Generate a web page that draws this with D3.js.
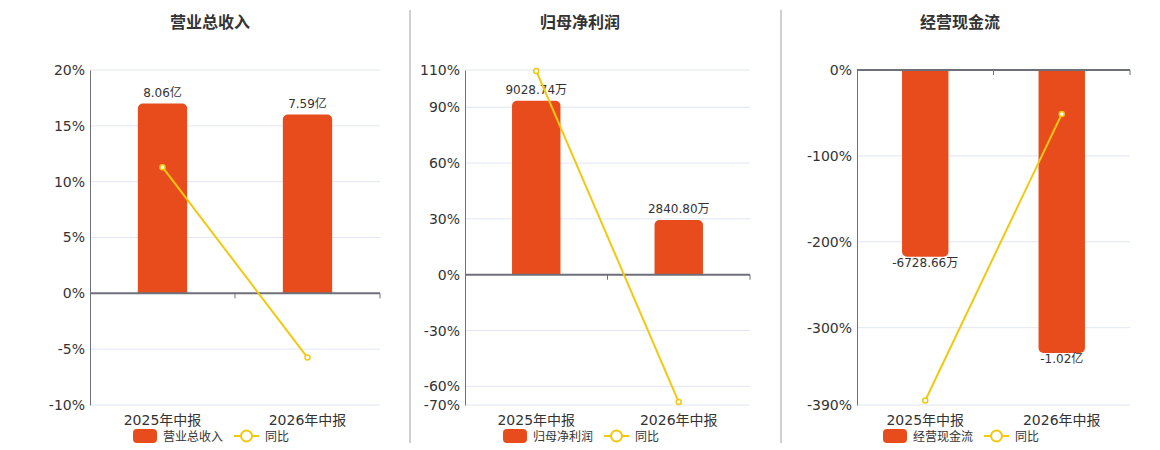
<!DOCTYPE html>
<html><head><meta charset="utf-8">
<script src="https://cdn.jsdelivr.net/npm/d3@7/dist/d3.min.js"></script>
<style>
body{margin:0;background:#fff;}
svg{display:block;font-family:"DejaVu Sans","Noto Sans CJK SC",sans-serif;}
</style></head>
<body><svg id="c" width="1160" height="450"></svg>
<script>
const categories = ["2025年中报", "2026年中报"];
const titles = ["营业总收入", "归母净利润", "经营现金流"];
// bar values in 万
const revenueValues = [80600, 75900];
const netProfitValues = [9028.74, 2840.80];
const cashFlowValues = [-6728.66, -10200];
const revenueLabels = ["8.06亿", "7.59亿"];
const netProfitLabels = ["9028.74万", "2840.80万"];
const cashFlowLabels = ["-6728.66万", "-1.02亿"];
// year-on-year %
const revenueYoY = [11.3, -5.75];
const netProfitYoY = [109.5, -68.4];
const cashFlowYoY = [-384.7, -51.3];
// y tick labels
const revenueTicks = [20, 15, 10, 5, 0, -5, -10];
const netProfitTicks = [110, 90, 60, 30, 0, -30, -60, -70];
const cashFlowTicks = [0, -100, -200, -300, -390];

const panels = [
  {title: titles[0], bars: revenueValues, labels: revenueLabels, yoy: revenueYoY, ticks: revenueTicks,
   left: 90, right: 380, cx: 210},
  {title: titles[1], bars: netProfitValues, labels: netProfitLabels, yoy: netProfitYoY, ticks: netProfitTicks,
   left: 465, right: 750, cx: 580},
  {title: titles[2], bars: cashFlowValues, labels: cashFlowLabels, yoy: cashFlowYoY, ticks: cashFlowTicks,
   left: 857, right: 1130, cx: 960}
];

const BAR = "#E84C1C", LINE = "#F2C811", AXIS = "#6E7079", GRID = "#E0E6F1", TXT = "#333";
const plotTop = 70, plotBottom = 405;
const svg = d3.select("#c");

[410, 781].forEach(x => svg.append("line").attr("x1", x).attr("x2", x).attr("y1", 10).attr("y2", 443)
  .attr("stroke", "#a0a0a0").attr("stroke-width", 1));

function roundedBar(x, w, y0, y1, r) {
  const p = d3.path();
  if (y1 < y0) {
    p.moveTo(x, y0); p.lineTo(x, y1 + r); p.arcTo(x, y1, x + r, y1, r);
    p.lineTo(x + w - r, y1); p.arcTo(x + w, y1, x + w, y1 + r, r); p.lineTo(x + w, y0); p.closePath();
  } else {
    p.moveTo(x, y0); p.lineTo(x, y1 - r); p.arcTo(x, y1, x + r, y1, r);
    p.lineTo(x + w - r, y1); p.arcTo(x + w, y1, x + w, y1 - r, r); p.lineTo(x + w, y0); p.closePath();
  }
  return p.toString();
}

panels.forEach(P => {
  const g = svg.append("g");
  const tmax = d3.max(P.ticks), tmin = d3.min(P.ticks);
  const y = d3.scaleLinear().domain([tmin, tmax]).range([plotBottom, plotTop]);
  const x = d3.scaleBand().domain(categories).range([P.left, P.right]);
  const y0 = y(0);
  const bmax = d3.max(P.bars), bmin = d3.min(P.bars);
  const yb = d3.scaleLinear();
  if (bmax > 0) yb.domain([0, bmax / 0.85]).range([y0, plotTop]);
  else yb.domain([0, bmin / 0.845]).range([y0, plotBottom]);

  g.append("text").attr("x", P.cx).attr("y", 28).attr("text-anchor", "middle")
    .attr("font-size", 16).attr("font-weight", "bold").attr("fill", TXT)
    .attr("font-family", "'Noto Sans CJK SC',sans-serif").text(P.title);

  g.selectAll(".grid").data(P.ticks.filter(t => t !== 0)).enter().append("line")
    .attr("x1", P.left).attr("x2", P.right).attr("y1", d => y(d)).attr("y2", d => y(d))
    .attr("stroke", GRID).attr("stroke-width", 1);

  const ya = d3.axisLeft(y).tickValues(P.ticks).tickSize(0).tickPadding(5).tickFormat(d => d + "%");
  const yg = g.append("g").attr("transform", `translate(${P.left},0)`).call(ya)
    .attr("font-family", null).attr("font-size", null);
  yg.select(".domain").attr("stroke", AXIS).attr("stroke-width", 1);
  yg.selectAll("text").attr("font-size", 14).attr("fill", TXT);

  P.bars.forEach((v, i) => {
    const bw = x.bandwidth() * 0.34;
    const bx = x(categories[i]) + (x.bandwidth() - bw) / 2;
    const by = yb(v);
    g.append("path").attr("d", roundedBar(bx, bw, y0, by, 5)).attr("fill", BAR);
    g.append("text").attr("x", bx + bw / 2).attr("y", v >= 0 ? by - 7 : by + 10)
      .attr("text-anchor", "middle").attr("font-size", 12).attr("fill", TXT)
      .text(P.labels[i]);
  });

  g.append("line").attr("x1", P.left).attr("x2", P.right).attr("y1", y0).attr("y2", y0)
    .attr("stroke", AXIS).attr("stroke-width", 2);
  [x(categories[1]), P.right].forEach(tx => {
    g.append("line").attr("x1", tx).attr("x2", tx).attr("y1", y0).attr("y2", y0 + 5).attr("stroke", AXIS);
  });

  categories.forEach(c => {
    g.append("text").attr("x", x(c) + x.bandwidth() / 2).attr("y", 425).attr("text-anchor", "middle")
      .attr("font-size", 14).attr("fill", TXT).text(c);
  });

  const line = d3.line().x((d, i) => x(categories[i]) + x.bandwidth() / 2).y(d => y(d));
  g.append("path").attr("d", line(P.yoy)).attr("fill", "none").attr("stroke", LINE).attr("stroke-width", 2);
  P.yoy.forEach((d, i) => {
    g.append("circle").attr("cx", x(categories[i]) + x.bandwidth() / 2).attr("cy", y(d)).attr("r", 2.5)
      .attr("fill", "#fff").attr("stroke", LINE).attr("stroke-width", 1.5);
  });

  const lx = P.cx - 77, ly = 436;
  g.append("rect").attr("x", lx).attr("y", ly - 7).attr("width", 24).attr("height", 14).attr("rx", 4).attr("fill", BAR);
  g.append("text").attr("x", lx + 30).attr("y", ly + 4.5).attr("font-size", 12).attr("fill", TXT)
    .attr("font-family", "'Noto Sans CJK SC',sans-serif").text(P.title);
  const l2 = lx + 101;
  g.append("line").attr("x1", l2).attr("x2", l2 + 25).attr("y1", ly).attr("y2", ly).attr("stroke", LINE).attr("stroke-width", 2);
  g.append("circle").attr("cx", l2 + 12.5).attr("cy", ly).attr("r", 5.5).attr("fill", "#fff").attr("stroke", LINE).attr("stroke-width", 2);
  g.append("text").attr("x", l2 + 31).attr("y", ly + 4.5).attr("font-size", 12).attr("fill", TXT)
    .attr("font-family", "'Noto Sans CJK SC',sans-serif").text("同比");
});
</script></body></html>
